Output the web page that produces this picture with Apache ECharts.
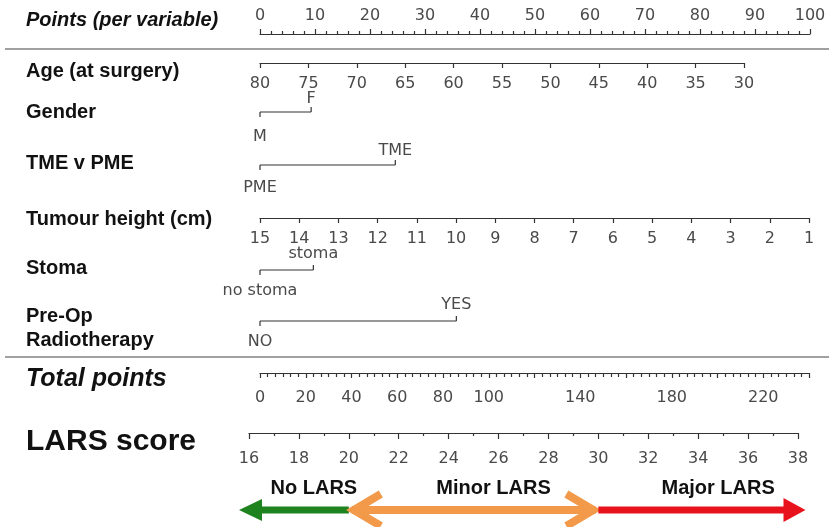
<!DOCTYPE html>
<html><head><meta charset="utf-8">
<script src="https://cdn.jsdelivr.net/npm/echarts@6/dist/echarts.min.js"></script>
<style>html,body{margin:0;padding:0;background:#fff}#c{width:829px;height:527px}</style>
</head><body><div id="c"></div>
<script>
// ---------------- data ----------------
const pointsRange = [0, 100];
const ageRange = [30, 80];          // 80 -> 0 points (axis reversed)
const tumourRange = [1, 15];        // 15 -> 0 points (axis reversed)
const totalRange = [0, 240];
const totalLabels = [0, 20, 40, 60, 80, 100, 140, 180, 220];
const larsRange = [16, 38];

const genderLevels = ['M', 'F'];            const genderPoints = [0, 9.3];
const surgeryLevels = ['PME', 'TME'];       const surgeryPoints = [0, 24.6];
const stomaLevels = ['no stoma', 'stoma'];  const stomaPoints = [0, 9.7];
const radioLevels = ['NO', 'YES'];          const radioPoints = [0, 35.7];

const bandNames = ['No LARS', 'Minor LARS', 'Major LARS'];
const bandStarts = [15.6, 20, 30];
const bandEnds = [20, 30, 38.3];
const bandLabelAt = [18.6, 25.8, 34.8];
const bandColors = ['#1e821e', '#f2994a', '#e8121c'];

const rowNames = ['Points (per variable)', 'Age (at surgery)', 'Gender', 'TME v PME',
  'Tumour height (cm)', 'Stoma', 'Pre-Op', 'Radiotherapy', 'Total points', 'LARS score'];

// ---------------- layout ----------------
const FONT = '"Liberation Sans", Arial, Helvetica, sans-serif';
const TFONT = '"DejaVu Sans", Verdana, sans-serif';
const rowY = [20, 71, 112, 163, 219, 268, 316, 340, 379, 442];
const rowStyle = ['bold italic 20px', 'bold 20px', 'bold 20px', 'bold 20px', 'bold 20px',
  'bold 20px', 'bold 20px', 'bold 20px', 'bold italic 25px', 'bold 30px'];
const AXC = '#333';
const LABC = '#4a4a4a';
const TSIZE = 16;

const chart = echarts.init(document.getElementById('c'), null, {renderer: 'canvas'});

function lab(margin, extra) {
  return Object.assign({color: LABC, fontSize: TSIZE, fontFamily: TFONT, margin: margin}, extra || {});
}
function axisBase(extra) {
  return Object.assign({
    type: 'value',
    axisLine: {show: true, lineStyle: {color: AXC, width: 1.2}},
    axisTick: {show: true, length: 5, lineStyle: {color: AXC, width: 1.2}},
    splitLine: {show: false}
  }, extra);
}

const grids = [
  {left: 260, right: 19, top: 33, height: 1},   // points
  {left: 260, right: 85, top: 62, height: 1},   // age
  {left: 260, right: 20, top: 217, height: 1},  // tumour
  {left: 260, right: 20, top: 372, height: 1},  // total
  {left: 249, right: 31, top: 432, height: 1}   // lars
];

const xAxes = [
  axisBase({gridIndex: 0, position: 'top', min: pointsRange[0], max: pointsRange[1], interval: 10,
    minorTick: {show: true, splitNumber: 5, length: 3, lineStyle: {color: AXC, width: 1.2}},
    axisLabel: lab(9)}),
  axisBase({gridIndex: 1, position: 'bottom', inverse: true, min: ageRange[0], max: ageRange[1], interval: 5,
    axisLabel: lab(13)}),
  axisBase({gridIndex: 2, position: 'bottom', inverse: true, min: tumourRange[0], max: tumourRange[1], interval: 1,
    axisLabel: lab(13)}),
  axisBase({gridIndex: 3, position: 'bottom', min: totalRange[0], max: totalRange[1], interval: 20,
    axisTick: {show: true, length: 5, lineStyle: {color: AXC, width: 1.2}},
    minorTick: {show: true, splitNumber: 6, length: 4, lineStyle: {color: AXC, width: 1.2}},
    axisLabel: lab(17, {formatter: v => totalLabels.indexOf(v) >= 0 ? String(v) : ''})}),
  axisBase({gridIndex: 4, position: 'bottom', min: larsRange[0], max: larsRange[1], interval: 2,
    axisTick: {show: true, length: 6, lineStyle: {color: AXC, width: 1.2}},
    minorTick: {show: true, splitNumber: 2, length: 3, lineStyle: {color: AXC, width: 1.2}},
    axisLabel: lab(18)})
];

const yAxes = grids.map((g, i) => ({type: 'value', gridIndex: i, show: false, min: 0, max: 1}));

// categorical variables drawn on the points scale
const catVars = [
  {levels: genderLevels, pts: genderPoints, y: 112, up: 13, dn: 25},
  {levels: surgeryLevels, pts: surgeryPoints, y: 165, up: 14, dn: 23},
  {levels: stomaLevels, pts: stomaPoints, y: 270, up: 16, dn: 21},
  {levels: radioLevels, pts: radioPoints, y: 321, up: 16, dn: 21}
];

const catSeries = catVars.map(v => ({
  type: 'custom', xAxisIndex: 0, yAxisIndex: 0, silent: true, clip: false,
  data: [[v.pts[0], v.pts[1]]],
  renderItem: (params, api) => {
    const xa = api.coord([api.value(0), 0])[0];
    const xb = api.coord([api.value(1), 0])[0];
    const y = v.y;
    const ls = {stroke: AXC, lineWidth: 1.2};
    const tf = TSIZE + 'px ' + TFONT;
    return {type: 'group', children: [
      {type: 'line', shape: {x1: xa, y1: y, x2: xb, y2: y}, style: ls},
      {type: 'line', shape: {x1: xa, y1: y, x2: xa, y2: y + 5}, style: ls},
      {type: 'line', shape: {x1: xb, y1: y, x2: xb, y2: y - 5}, style: ls},
      {type: 'text', style: {text: v.levels[0], x: xa, y: y + v.dn, font: tf, fill: LABC, align: 'center', verticalAlign: 'middle'}},
      {type: 'text', style: {text: v.levels[1], x: xb, y: y - v.up, font: tf, fill: LABC, align: 'center', verticalAlign: 'middle'}}
    ]};
  }
}));

// LARS band arrows on the LARS scale
const AY = 510;
const arrowSeries = {
  type: 'custom', xAxisIndex: 4, yAxisIndex: 4, silent: true, clip: false,
  data: bandStarts.map((s, i) => [s, bandEnds[i], bandLabelAt[i], i]),
  renderItem: (params, api) => {
    const xs = api.coord([api.value(0), 0])[0];
    const xe = api.coord([api.value(1), 0])[0];
    const xl = api.coord([api.value(2), 0])[0];
    const i = api.value(3);
    const col = bandColors[i];
    const ch = [];
    if (i === 0) {
      const hl = 23, hh = 11, bt = 3.5;
      ch.push({type: 'rect', shape: {x: xs + hl - 1, y: AY - bt, width: xe - xs - hl + 1, height: bt * 2}, style: {fill: col}});
      ch.push({type: 'polygon', shape: {points: [[xs, AY], [xs + hl, AY - hh], [xs + hl, AY + hh]]}, style: {fill: col}});
    } else if (i === 1) {
      ch.push({type: 'line', shape: {x1: xs + 3, y1: AY, x2: xe - 3, y2: AY}, style: {stroke: col, lineWidth: 8}});
      ch.push({type: 'polyline', shape: {points: [[xs + 32, AY - 16], [xs + 5, AY], [xs + 32, AY + 16]]},
        style: {stroke: col, lineWidth: 8, fill: null, lineJoin: 'miter', lineCap: 'butt'}});
      ch.push({type: 'polyline', shape: {points: [[xe - 32, AY - 16], [xe - 5, AY], [xe - 32, AY + 16]]},
        style: {stroke: col, lineWidth: 8, fill: null, lineJoin: 'miter', lineCap: 'butt'}});
    } else {
      const hl = 22, hh = 12, bt = 3.5;
      ch.push({type: 'rect', shape: {x: xs, y: AY - bt, width: xe - xs - hl + 1, height: bt * 2}, style: {fill: col}});
      ch.push({type: 'polygon', shape: {points: [[xe, AY], [xe - hl, AY - hh], [xe - hl, AY + hh]]}, style: {fill: col}});
    }
    ch.push({type: 'text', style: {text: bandNames[i], x: xl, y: 488, font: 'bold 20px ' + FONT, fill: '#111', align: 'center', verticalAlign: 'middle'}});
    return {type: 'group', children: ch};
  }
};

const graphics = [
  {type: 'line', shape: {x1: 5, y1: 49, x2: 829, y2: 49}, style: {stroke: '#808080', lineWidth: 1.5}},
  {type: 'line', shape: {x1: 5, y1: 357, x2: 829, y2: 357}, style: {stroke: '#808080', lineWidth: 1.5}}
].concat(rowNames.map((n, i) => ({
  type: 'text', x: 26, y: rowY[i],
  style: {text: n, font: rowStyle[i] + ' ' + FONT, fill: '#111', verticalAlign: 'middle'}
})));

chart.setOption({
  animation: false,
  backgroundColor: '#fff',
  grid: grids,
  xAxis: xAxes,
  yAxis: yAxes,
  graphic: graphics,
  series: catSeries.concat([arrowSeries])
});
</script>
</body></html>
